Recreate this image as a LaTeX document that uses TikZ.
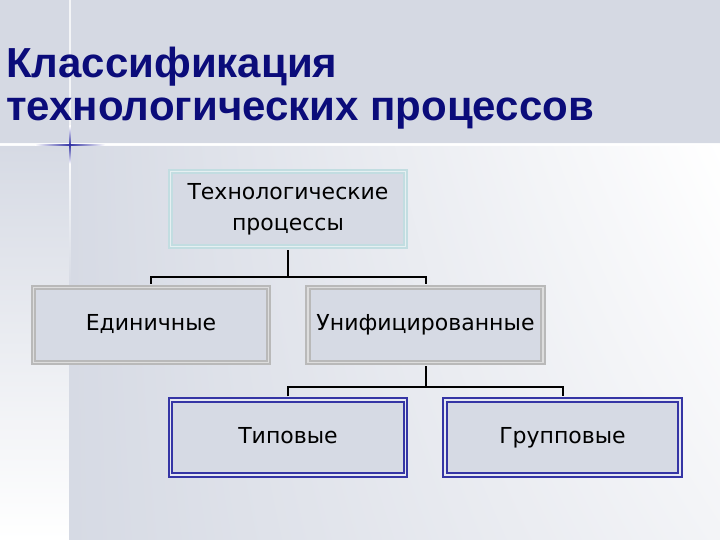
\documentclass[tikz,border=0pt]{standalone}
\usepackage{fontspec}
\usetikzlibrary{shadings}
\setmainfont{DejaVu Sans}
\newfontfamily\titlefont{Liberation Sans}
\definecolor{bg}{HTML}{D6DAE4}
\definecolor{titlebg}{HTML}{D5D9E3}
\definecolor{navy}{HTML}{0B0C7A}
\definecolor{bblue}{HTML}{3535A5}
\definecolor{bgray}{HTML}{B9B9B9}
\definecolor{bteal}{HTML}{C2DDE1}
\definecolor{boxfill}{HTML}{D6DAE4}
\definecolor{lowright}{HTML}{F3F4F7}
\definecolor{E6F0F2}{HTML}{E6F0F2}
\definecolor{DDDDDD}{HTML}{DDDDDD}
\definecolor{E6E8F2}{HTML}{E6E8F2}
\tikzset{
  box/.style={minimum width=235pt, minimum height=75pt, fill=boxfill,
    line width=1.8pt, double distance=1.8pt, align=center, inner sep=0pt,
    font=\fontsize{22}{31}\selectfont},
  oneline/.style={text height=16pt, text depth=5pt},
  tealbox/.style={box, draw=bteal, double=E6F0F2},
  graybox/.style={box, oneline, draw=bgray, double=DDDDDD},
  bluebox/.style={box, oneline, draw=bblue, double=E6E8F2},
  conn/.style={draw=black, line width=2pt, shorten <=2.7pt, shorten >=2.7pt},
  titletext/.style={anchor=base west, inner sep=0pt, text=navy,
    font=\titlefont\bfseries\fontsize{42}{44}\selectfont}
}
\begin{document}
\begin{tikzpicture}[x=1pt,y=-1pt]
\useasboundingbox (0,0) rectangle (720,540);
% background
\fill[titlebg] (0,0) rectangle (720,144);
\shade[top color=bg, bottom color=white] (0,146) rectangle (69,540);
\shade[upper left=bg, lower left=bg, upper right=white, lower right=lowright] (69,146) rectangle (720,540);
\fill[white, opacity=0.9] (0,143.5) rectangle (720,146.5);
\fill[white, opacity=0.75] (69.4,0) rectangle (70.8,143.5);
\shade[top color=white, bottom color=bg] (69.3,146.5) rectangle (70.9,285);
% blue cross
\shade[left color=white, right color=bblue] (35,144.2) rectangle (70,146);
\shade[left color=bblue, right color=white] (70,144.2) rectangle (105,146);
\shade[top color=white, bottom color=bblue] (69.3,126) rectangle (70.9,145);
\shade[top color=bblue, bottom color=white] (69.3,145) rectangle (70.9,164);
% title
\node[titletext] (t1) at (6,78) {Классификация};
\node[titletext] (t2) at (6,121) {технологических процессов};
% boxes
\node[tealbox] (top) at (288,209) {Технологические\\процессы};
\node[graybox] (ed) at (151,325) {Единичные};
\node[graybox] (un) at (425.5,325) {Унифицированные};
\node[bluebox] (tip) at (288,437.5) {Типовые};
\node[bluebox] (gr) at (562.5,437.5) {Групповые};
% connectors
\draw[conn, shorten >=0pt] (top.south) -- ++(0,30) coordinate (j1);
\draw[conn] (ed.north) |- (j1) -| (un.north);
\draw[conn, shorten >=0pt] (un.south) -- ++(0,24) coordinate (j2);
\draw[conn] (tip.north) |- (j2) -| (gr.north);
\end{tikzpicture}
\end{document}
